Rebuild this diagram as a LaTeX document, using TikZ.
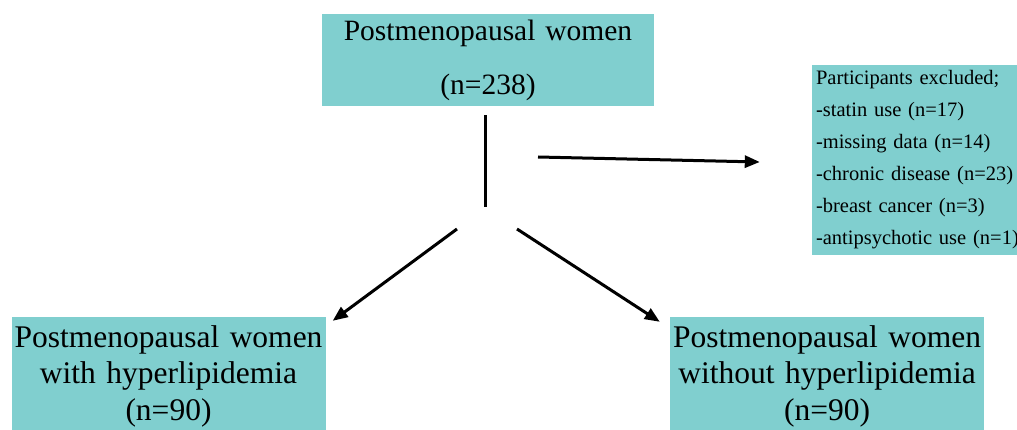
\documentclass[tikz,border=0pt]{standalone}
\usepackage{fontspec}
\setmainfont{Liberation Serif}
\usetikzlibrary{arrows.meta,positioning}
\definecolor{boxfill}{HTML}{80CFCF}
\tikzset{
  box/.style={fill=boxfill, inner sep=0pt, align=center},
  bigbox/.style={box, minimum width=314pt, minimum height=118pt, text width=314pt,
    font=\fontsize{31.5}{36.5}\selectfont},
  line/.style={draw=black, line width=3pt},
  arr/.style={line, -{Triangle[length=15pt,width=12pt]}},
}
\begin{document}
\begin{tikzpicture}[x=1pt,y=-1pt]
  \useasboundingbox (0,0) rectangle (1017,430);
  \node[box, minimum width=332pt, minimum height=92pt, text width=332pt,
    font=\fontsize{29.5}{54}\selectfont] (all) at (488,60) {Postmenopausal women\\(n=238)};
  \node[box, align=left, inner xsep=4pt, minimum height=190pt, text width=207pt,
    font=\fontsize{20.5}{32}\selectfont] (excl) at (919.5,160)
    {Participants excluded;\\-statin use (n=17)\\-missing data (n=14)\\-chronic disease (n=23)\\-breast cancer (n=3)\\-antipsychotic use (n=1)};
  \node[bigbox] (with) at (168.5,376) {Postmenopausal women\\with hyperlipidemia\\(n=90)};
  \node[bigbox] (without) at (827,376) {Postmenopausal women\\without hyperlipidemia\\(n=90)};
  % split points
  \coordinate (fork) at (485,207);
  \coordinate (exstart) at (538,157);
  \coordinate (forkL) at (457,229);
  \coordinate (forkR) at (517,229);
  \draw[line] ([xshift=-3pt,yshift=-9pt]all.south) -- (fork);
  \draw[arr] (exstart) -- ([xshift=-52pt,yshift=-2pt]excl.west);
  \draw[arr] (forkL) -- ([xshift=7pt,yshift=-4pt]with.north east);
  \draw[arr] (forkR) -- ([xshift=-10pt,yshift=-5pt]without.north west);
\end{tikzpicture}
\end{document}
